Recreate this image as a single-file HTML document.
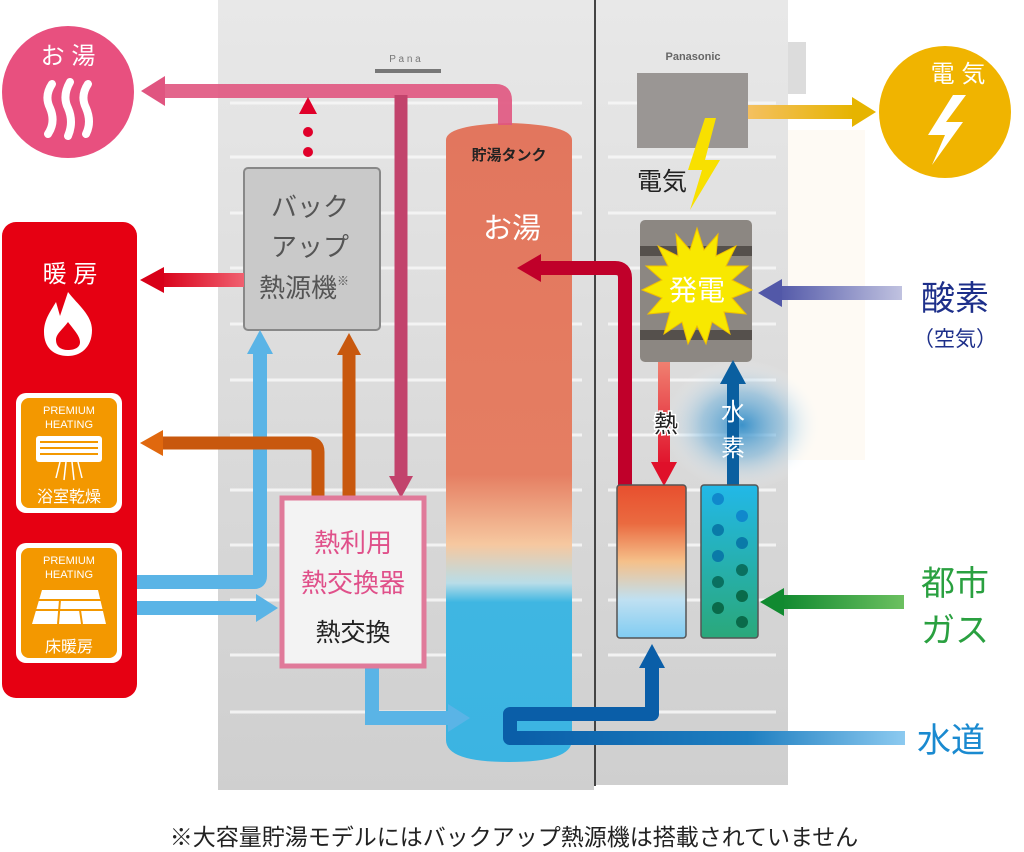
<!DOCTYPE html>
<html><head><meta charset="utf-8"><style>
html,body{margin:0;padding:0;background:#fff}
svg{display:block}
text{font-family:"Liberation Sans","Noto Sans CJK JP",sans-serif}
</style></head><body>
<svg width="1024" height="852" viewBox="0 0 1024 852" xmlns="http://www.w3.org/2000/svg">
<defs>
<linearGradient id="cab" x1="0" y1="0" x2="0" y2="1"><stop offset="0" stop-color="#e8e8e8"/><stop offset="1" stop-color="#cfcfcf"/></linearGradient>
<linearGradient id="tank" x1="0" y1="0" x2="0" y2="1">
<stop offset="0" stop-color="#e2765e"/><stop offset="0.55" stop-color="#e57e62"/><stop offset="0.66" stop-color="#f6c8a0"/><stop offset="0.72" stop-color="#b8dde8"/><stop offset="0.75" stop-color="#3fb6e2"/><stop offset="1" stop-color="#3bb4e2"/></linearGradient>
<linearGradient id="hot" x1="0" y1="0" x2="0" y2="1"><stop offset="0" stop-color="#e84f2e"/><stop offset="0.25" stop-color="#ea6a40"/><stop offset="0.5" stop-color="#f5c08a"/><stop offset="0.75" stop-color="#bfe0f2"/><stop offset="1" stop-color="#80ccf2"/></linearGradient>
<linearGradient id="ref" x1="0" y1="0" x2="0" y2="1"><stop offset="0" stop-color="#22b8e8"/><stop offset="1" stop-color="#2aa87a"/></linearGradient>
<linearGradient id="oxy" x1="0" y1="0" x2="1" y2="0"><stop offset="0" stop-color="#5258a8"/><stop offset="1" stop-color="#c0c2e0"/></linearGradient>
<linearGradient id="gas" x1="0" y1="0" x2="1" y2="0"><stop offset="0" stop-color="#118a30"/><stop offset="1" stop-color="#6cc060"/></linearGradient>
<linearGradient id="wat" x1="510" y1="0" x2="905" y2="0" gradientUnits="userSpaceOnUse"><stop offset="0" stop-color="#0a5ea8"/><stop offset="0.6" stop-color="#1e7ec0"/><stop offset="1" stop-color="#8ccaf0"/></linearGradient>
<linearGradient id="elec" x1="0" y1="0" x2="1" y2="0"><stop offset="0" stop-color="#f4c060"/><stop offset="1" stop-color="#e6b400"/></linearGradient>
<linearGradient id="heat" x1="0" y1="0" x2="0" y2="1"><stop offset="0" stop-color="#f08070"/><stop offset="1" stop-color="#e0102a"/></linearGradient>
<linearGradient id="redh" x1="0" y1="0" x2="1" y2="0"><stop offset="0" stop-color="#d80018"/><stop offset="1" stop-color="#f06070"/></linearGradient>
<radialGradient id="glow" cx="0.5" cy="0.5" r="0.5"><stop offset="0" stop-color="#2a8ac8" stop-opacity="0.9"/><stop offset="0.5" stop-color="#6ab0dc" stop-opacity="0.5"/><stop offset="1" stop-color="#ffffff" stop-opacity="0"/></radialGradient>
</defs>

<rect x="530" y="130" width="335" height="330" fill="#fdf6ea" opacity="0.5"/>
<rect x="218" y="0" width="376" height="790" fill="url(#cab)"/>
<rect x="596" y="0" width="192" height="785" fill="url(#cab)"/>
<line x1="595" y1="0" x2="595" y2="786" stroke="#444" stroke-width="2"/>
<rect x="788" y="42" width="18" height="52" fill="#dcdcdc"/>
<g stroke="#f6f6f6" stroke-width="3" opacity="0.9">
<line x1="230" y1="103" x2="582" y2="103"/><line x1="230" y1="157" x2="582" y2="157"/><line x1="230" y1="213" x2="582" y2="213"/><line x1="230" y1="268" x2="582" y2="268"/><line x1="230" y1="324" x2="582" y2="324"/><line x1="230" y1="380" x2="582" y2="380"/><line x1="230" y1="435" x2="582" y2="435"/><line x1="230" y1="490" x2="582" y2="490"/><line x1="230" y1="545" x2="582" y2="545"/><line x1="230" y1="600" x2="582" y2="600"/><line x1="230" y1="655" x2="582" y2="655"/><line x1="230" y1="712" x2="582" y2="712"/>
<line x1="608" y1="103" x2="776" y2="103"/><line x1="608" y1="157" x2="776" y2="157"/><line x1="608" y1="213" x2="776" y2="213"/><line x1="608" y1="268" x2="776" y2="268"/><line x1="608" y1="324" x2="776" y2="324"/><line x1="608" y1="380" x2="776" y2="380"/><line x1="608" y1="435" x2="776" y2="435"/><line x1="608" y1="490" x2="776" y2="490"/><line x1="608" y1="545" x2="776" y2="545"/><line x1="608" y1="600" x2="776" y2="600"/><line x1="608" y1="655" x2="776" y2="655"/><line x1="608" y1="712" x2="776" y2="712"/>
</g>
<rect x="375" y="69" width="66" height="4" fill="#777"/>
<text x="405" y="62" font-size="10" fill="#777" text-anchor="middle">P a n a</text>
<text x="693" y="60" font-size="11" fill="#666" text-anchor="middle" font-weight="bold">Panasonic</text>

<path d="M446 140 Q446 125 509 123 Q572 125 572 140 L572 740 Q572 762 509 762 Q446 762 446 740 Z" fill="url(#tank)"/>
<text x="509" y="160" font-size="15" font-weight="bold" fill="#222" text-anchor="middle">貯湯タンク</text>
<text x="512" y="238" font-size="29" fill="#fff" text-anchor="middle">お湯</text>

<path d="M505 125 L505 100 Q505 91 496 91 L160 91" fill="none" stroke="#e05580" stroke-width="14" opacity="0.9"/>
<polygon points="141,91 165,76 165,106" fill="#e05580"/>
<line x1="401" y1="95" x2="401" y2="478" stroke="#c2436c" stroke-width="13"/>
<polygon points="401,498 389,476 413,476" fill="#c2436c"/>
<polygon points="308,97 299,114 317,114" fill="#e0002a"/>
<circle cx="308" cy="132" r="5" fill="#e0002a"/><circle cx="308" cy="152" r="5" fill="#e0002a"/>

<circle cx="68" cy="92" r="66" fill="#e8507f"/>
<text x="68" y="64" font-size="24" fill="#fff" text-anchor="middle">お 湯</text>
<g fill="none" stroke="#fff" stroke-width="8" stroke-linecap="round">
<path d="M52 84 Q44 96 50 108 Q56 122 48 134"/><path d="M70 82 Q62 96 68 108 Q74 122 68 136"/><path d="M88 84 Q80 96 86 108 Q92 122 86 134"/></g>

<rect x="2" y="222" width="135" height="476" rx="14" fill="#e60012"/>
<text x="70" y="282" font-size="24" fill="#fff" text-anchor="middle">暖 房</text>
<path d="M68 292 C78 305 92 315 92 330 C92 348 80 356 68 356 C54 356 44 348 44 332 C44 320 50 312 56 302 L60 316 Z" fill="#fff"/>
<path d="M68 322 C74 330 80 336 80 342 C80 348 74 350 68 350 C60 350 56 346 56 340 C56 334 62 330 68 322Z" fill="#e60012"/>
<g>
<rect x="16" y="393" width="106" height="120" rx="10" fill="#fff"/><rect x="21" y="398" width="96" height="110" rx="8" fill="#f39800"/>
<text x="69" y="414" font-size="11" fill="#fff" text-anchor="middle">PREMIUM</text><text x="69" y="428" font-size="11" fill="#fff" text-anchor="middle">HEATING</text>
<rect x="36" y="436" width="66" height="26" rx="3" fill="#fff"/>
<g stroke="#f39800" stroke-width="2"><line x1="40" y1="442" x2="98" y2="442"/><line x1="40" y1="448" x2="98" y2="448"/><line x1="40" y1="454" x2="98" y2="454"/></g>
<g stroke="#fff" stroke-width="1.5"><line x1="60" y1="462" x2="56" y2="478"/><line x1="66" y1="462" x2="64" y2="480"/><line x1="72" y1="462" x2="74" y2="480"/><line x1="78" y1="462" x2="82" y2="478"/></g>
<text x="69" y="502" font-size="16" fill="#fff" text-anchor="middle">浴室乾燥</text>
</g>
<g>
<rect x="16" y="543" width="106" height="120" rx="10" fill="#fff"/><rect x="21" y="548" width="96" height="110" rx="8" fill="#f39800"/>
<text x="69" y="564" font-size="11" fill="#fff" text-anchor="middle">PREMIUM</text><text x="69" y="578" font-size="11" fill="#fff" text-anchor="middle">HEATING</text>
<polygon points="42,590 98,590 106,624 32,624" fill="#fff"/>
<g stroke="#f39800" stroke-width="2"><line x1="36" y1="600" x2="102" y2="600"/><line x1="34" y1="610" x2="104" y2="610"/><line x1="60" y1="600" x2="58" y2="624"/><line x1="80" y1="610" x2="82" y2="624"/></g>
<text x="69" y="652" font-size="16" fill="#fff" text-anchor="middle">床暖房</text>
</g>

<rect x="244" y="168" width="136" height="162" rx="4" fill="#c9c9c9" stroke="#888" stroke-width="2"/>
<text x="310" y="216" font-size="26" fill="#555" text-anchor="middle">バック</text>
<text x="310" y="256" font-size="26" fill="#555" text-anchor="middle">アップ</text>
<text x="304" y="297" font-size="26" fill="#555" text-anchor="middle">熱源機<tspan font-size="12" dy="-12">※</tspan></text>
<rect x="160" y="273" width="84" height="14" fill="url(#redh)"/>
<polygon points="140,280 164,267 164,293" fill="#d80018"/>

<g fill="none" stroke="#5ab4e6" stroke-width="14">
<path d="M137 582 L254 582 Q260 582 260 576 L260 350"/>
<line x1="137" y1="608" x2="258" y2="608"/>
<path d="M372 668 L372 718 L452 718"/>
</g>
<polygon points="260,330 247,354 273,354" fill="#5ab4e6"/>
<polygon points="278,608 256,594 256,622" fill="#5ab4e6"/>
<polygon points="470,718 448,704 448,732" fill="#5ab4e6"/>
<g fill="none" stroke="#c8580e" stroke-width="13">
<line x1="349" y1="496" x2="349" y2="352"/>
<path d="M318 496 L318 452 Q318 443 309 443 L158 443"/>
</g>
<polygon points="349,333 337,355 361,355" fill="#c8580e"/>
<polygon points="140,443 163,430 163,456" fill="#e0680e"/>

<rect x="282" y="498" width="142" height="168" fill="#f3f3f3" stroke="#e07a9a" stroke-width="5"/>
<text x="353" y="552" font-size="26" fill="#e0508a" text-anchor="middle">熱利用</text>
<text x="353" y="592" font-size="26" fill="#e0508a" text-anchor="middle">熱交換器</text>
<text x="353" y="641" font-size="25" fill="#222" text-anchor="middle">熱交換</text>

<rect x="637" y="73" width="111" height="75" fill="#9a9694"/>
<rect x="748" y="105" width="106" height="14" fill="url(#elec)"/>
<polygon points="876,112 852,97 852,127" fill="#e6b400"/>
<circle cx="945" cy="112" r="66" fill="#f0b400"/>
<text x="958" y="82" font-size="24" fill="#fff" text-anchor="middle">電 気</text>
<polygon points="953,95 928,135 945,135 932,165 963,122 946,122 966,95" fill="#fff"/>
<polygon points="705,118 688,170 702,170 690,210 720,160 705,160 716,118" fill="#f8e000"/>
<text x="637" y="190" font-size="25" fill="#222">電気</text>

<rect x="640" y="220" width="112" height="142" rx="5" fill="#8c8782"/>
<rect x="640" y="246" width="112" height="10" fill="#55504c"/><rect x="640" y="330" width="112" height="10" fill="#55504c"/>
<polygon fill="#f8e800" stroke="#f0c000" stroke-width="1" points="697,228 704,250 718,234 716,256 736,246 726,266 748,266 732,280 752,290 732,298 746,314 724,312 730,334 712,322 706,344 697,326 688,344 682,322 664,334 670,312 648,314 662,298 642,290 662,280 646,266 668,266 658,246 678,256 676,234 690,250"/>
<text x="697" y="300" font-size="28" fill="#fff" text-anchor="middle">発電</text>
<rect x="778" y="286" width="124" height="14" fill="url(#oxy)"/>
<polygon points="758,293 782,279 782,307" fill="#5258a8"/>
<text x="955" y="310" font-size="34" fill="#1d2f8a" text-anchor="middle">酸素</text>
<text x="955" y="346" font-size="21" fill="#1d2f8a" text-anchor="middle">（空気）</text>

<ellipse cx="742" cy="425" rx="80" ry="65" fill="url(#glow)"/>
<path d="M625 485 L625 278 Q625 268 615 268 L538 268" fill="none" stroke="#c0002a" stroke-width="14"/>
<polygon points="517,268 541,254 541,282" fill="#c0002a"/>
<rect x="658" y="362" width="12" height="105" fill="url(#heat)"/>
<polygon points="664,486 651,462 677,462" fill="#e0102a"/>
<text x="666" y="432" font-size="24" fill="#222" text-anchor="middle" stroke="#fff" stroke-width="3" paint-order="stroke">熱</text>
<rect x="727" y="380" width="12" height="105" fill="#0a5fa0"/>
<polygon points="733,360 720,384 746,384" fill="#0a5fa0"/>
<text x="733" y="420" font-size="24" fill="#fff" text-anchor="middle">水</text>
<text x="733" y="456" font-size="24" fill="#fff" text-anchor="middle">素</text>
<rect x="617" y="485" width="69" height="153" rx="3" fill="url(#hot)" stroke="#555" stroke-width="1.5"/>
<rect x="701" y="485" width="57" height="153" rx="3" fill="url(#ref)" stroke="#555" stroke-width="1.5"/>
<g fill="#0a7aa8">
<circle cx="718" cy="499" r="6" fill="#1088cc"/><circle cx="742" cy="516" r="6" fill="#1088cc"/><circle cx="718" cy="530" r="6"/><circle cx="742" cy="543" r="6"/><circle cx="718" cy="556" r="6"/><circle cx="742" cy="570" r="6" fill="#0a7060"/><circle cx="718" cy="582" r="6" fill="#0a7060"/><circle cx="742" cy="596" r="6" fill="#0a6a4a"/><circle cx="718" cy="608" r="6" fill="#0a6a4a"/><circle cx="742" cy="622" r="6" fill="#0a6a4a"/>
</g>
<rect x="782" y="595" width="122" height="14" fill="url(#gas)"/>
<polygon points="760,602 784,588 784,616" fill="#118a30"/>
<text x="955" y="595" font-size="34" fill="#2aa040" text-anchor="middle">都市</text>
<text x="955" y="642" font-size="34" fill="#2aa040" text-anchor="middle">ガス</text>
<rect x="510" y="731" width="395" height="14" fill="url(#wat)"/>
<path d="M520 738 L510 738 L510 714 L652 714 L652 664" fill="none" stroke="#0a5ea8" stroke-width="14" stroke-linejoin="round"/>
<polygon points="652,644 639,668 665,668" fill="#0a5ea8"/>
<text x="951" y="752" font-size="34" fill="#1a8ad0" text-anchor="middle">水道</text>

<text x="514" y="845" font-size="23" fill="#222" text-anchor="middle">※大容量貯湯モデルにはバックアップ熱源機は搭載されていません</text>
</svg>
</body></html>
